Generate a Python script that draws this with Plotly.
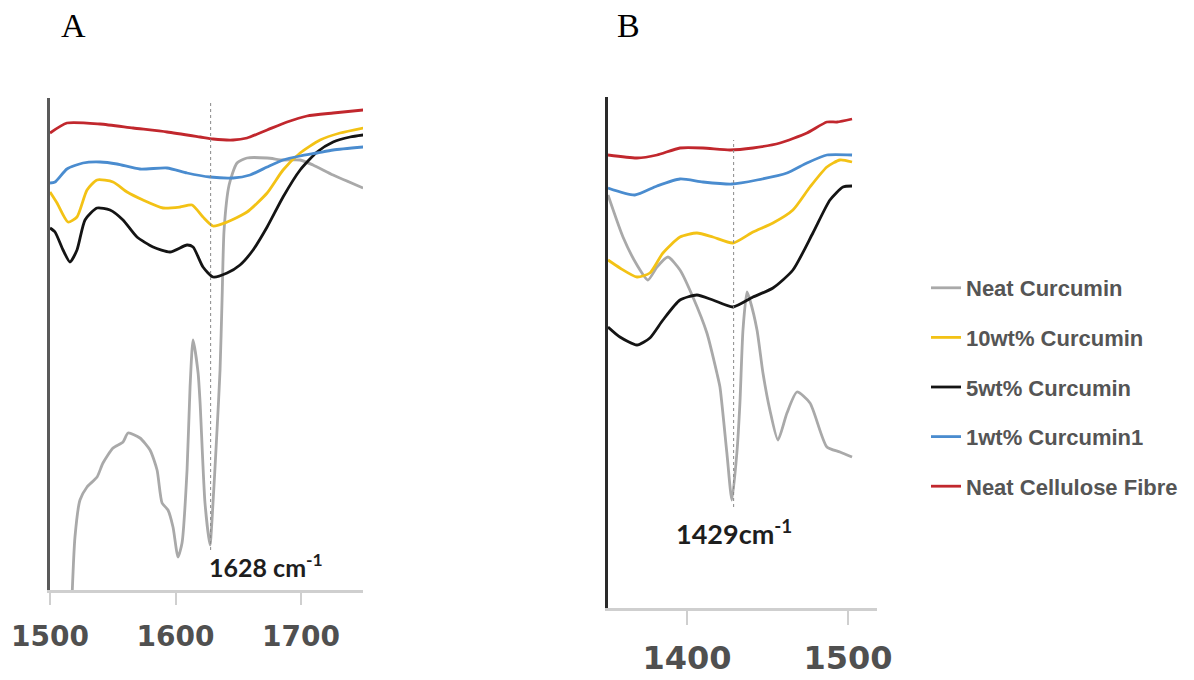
import plotly.graph_objects as go

# ---------------- Data (wavenumber cm-1, transmittance a.u.) ----------------
series_names = ["Neat Curcumin", "10wt% Curcumin", "5wt% Curcumin",
                "1wt% Curcumin1", "Neat Cellulose Fibre"]
series_colors = ["#a9a9a9", "#f3c215", "#141414", "#4a8ccf", "#c1272d"]

# Panel A (1500-1750 cm-1)
a_gray_x = [1517.0, 1519.9, 1523.9, 1529.5, 1537.5, 1542.2, 1550.2, 1558.2, 1562.2, 1571.7,
            1579.7, 1585.3, 1589.3, 1594.0, 1598.0, 1602.0, 1605.2, 1609.2, 1611.6, 1614.0,
            1618.0, 1619.6, 1623.5, 1627.5, 1629.1, 1633.1, 1635.5, 1637.1, 1638.7, 1642.7,
            1649.0, 1657.0, 1673.0, 1685.7, 1699.3, 1709.6, 1725.6, 1749.5]
a_gray_y = [-5.0, 10.6, 18.0, 20.6, 22.6, 25.4, 28.4, 29.6, 31.4, 30.4,
            28.0, 24.0, 17.4, 16.0, 12.6, 6.6, 9.4, 24.0, 40.6, 50.0,
            43.4, 37.4, 17.4, 9.0, 14.0, 32.0, 44.0, 58.0, 72.0, 81.0,
            85.4, 86.4, 86.4, 86.0, 86.0, 85.0, 83.0, 80.4]

a_yellow_x = [1500.0, 1505.6, 1514.3, 1521.5, 1529.5, 1537.5, 1550.2, 1561.4, 1574.1, 1590.1,
              1603.6, 1613.2, 1621.9, 1629.9, 1641.1, 1657.0, 1673.0, 1685.7, 1699.3, 1715.2,
              1731.1, 1749.5]
a_yellow_y = [79.6, 77.4, 73.6, 74.6, 80.0, 82.0, 81.6, 79.6, 78.0, 76.4,
              76.6, 77.0, 74.6, 72.8, 73.6, 75.6, 79.4, 84.0, 87.4, 90.0,
              91.4, 92.4]

a_black_x = [1500.0, 1504.0, 1510.4, 1515.9, 1521.5, 1527.9, 1537.5, 1547.8, 1558.2, 1569.3,
             1582.1, 1595.6, 1609.2, 1614.0, 1621.9, 1629.9, 1641.1, 1651.4, 1661.8, 1673.0,
             1685.7, 1699.3, 1712.8, 1725.6, 1739.1, 1749.5]
a_black_y = [72.4, 71.6, 68.0, 65.6, 68.0, 74.0, 76.4, 76.0, 74.0, 70.6,
             68.6, 67.6, 69.0, 68.6, 64.6, 62.6, 63.4, 65.0, 68.0, 72.6,
             78.6, 84.0, 87.6, 89.6, 90.6, 91.0]

a_blue_x = [1500.0, 1504.0, 1513.5, 1526.3, 1539.9, 1553.4, 1571.7, 1593.3, 1609.2, 1627.5,
            1645.9, 1659.4, 1673.0, 1685.7, 1699.3, 1712.8, 1725.6, 1749.5]
a_blue_y = [81.4, 81.6, 84.2, 85.4, 85.6, 85.2, 84.2, 84.4, 83.4, 82.6,
            82.4, 83.0, 84.6, 86.0, 86.8, 87.4, 88.0, 88.6]

a_red_x = [1500.0, 1513.5, 1539.9, 1566.2, 1593.3, 1619.6, 1629.9, 1645.9, 1657.0, 1673.0,
           1688.9, 1704.8, 1725.6, 1749.5]
a_red_y = [91.4, 93.4, 93.2, 92.4, 91.6, 90.6, 90.2, 90.0, 90.4, 92.0,
           93.6, 94.8, 95.4, 96.0]

# Panel B (1350-1518 cm-1)
b_gray_x = [1351.0, 1360.3, 1369.0, 1375.8, 1381.4, 1388.2, 1395.7, 1403.7, 1412.4, 1418.6,
            1420.5, 1424.8, 1427.9, 1431.0, 1432.9, 1434.8, 1437.3, 1439.1, 1443.5, 1447.2,
            1451.5, 1456.5, 1462.1, 1468.3, 1476.4, 1486.9, 1495.0, 1502.5]
b_gray_y = [82.6, 74.2, 68.6, 65.6, 68.2, 70.2, 67.6, 62.2, 55.0, 47.0,
            44.2, 31.0, 21.6, 31.0, 41.0, 55.6, 63.2, 61.6, 55.6, 47.0,
            39.6, 33.6, 39.0, 43.2, 41.0, 32.2, 31.2, 30.2]

b_yellow_x = [1351.0, 1358.4, 1369.0, 1377.0, 1385.1, 1395.7, 1406.2, 1416.1, 1428.6, 1441.0,
              1453.4, 1465.8, 1476.4, 1486.9, 1495.0, 1502.5]
b_yellow_y = [69.6, 68.0, 66.2, 67.0, 71.0, 74.2, 75.0, 74.2, 73.0, 75.2,
              77.0, 79.6, 84.2, 88.2, 89.6, 89.2]

b_black_x = [1351.0, 1358.4, 1369.0, 1377.0, 1385.1, 1395.7, 1406.2, 1416.1, 1428.6, 1441.0,
             1453.4, 1465.8, 1478.2, 1488.8, 1496.9, 1502.5]
b_black_y = [56.2, 54.2, 52.6, 54.0, 57.6, 61.6, 62.6, 61.6, 60.2, 62.2,
             64.0, 67.6, 75.0, 81.6, 84.2, 84.4]

b_blue_x = [1351.0, 1367.7, 1381.4, 1395.7, 1409.9, 1427.9, 1443.5, 1462.1, 1474.5, 1486.9,
            1502.5]
b_blue_y = [84.0, 82.6, 84.4, 85.8, 85.2, 84.8, 85.6, 87.0, 89.0, 90.6,
            90.6]

b_red_x = [1351.0, 1369.0, 1381.4, 1395.7, 1409.9, 1426.7, 1441.0, 1457.8, 1474.5, 1486.9,
           1493.2, 1502.5]
b_red_y = [90.6, 90.0, 90.6, 92.0, 92.0, 91.6, 92.0, 93.0, 95.0, 97.2,
           97.2, 97.8]

# Peak markers
peak_wavenumbers = [1628, 1429]
peak_line_top = [97.4, 93.6]
peak_line_bottom = [8.0, 20.2]
peak_labels = ["<b>1628 cm<sup>-1</sup></b>", "<b>1429cm<sup>-1</sup></b>"]
peak_label_y = [5.0, 15.2]

a_ticks = [1500, 1600, 1700]
b_ticks = [1400, 1500]

# ---------------- Figure ----------------
fig = go.Figure()

a_sets = [(a_gray_x, a_gray_y), (a_yellow_x, a_yellow_y), (a_black_x, a_black_y),
          (a_blue_x, a_blue_y), (a_red_x, a_red_y)]
b_sets = [(b_gray_x, b_gray_y), (b_yellow_x, b_yellow_y), (b_black_x, b_black_y),
          (b_blue_x, b_blue_y), (b_red_x, b_red_y)]

for i, (xs, ys) in enumerate(a_sets):
    fig.add_trace(go.Scatter(x=xs, y=ys, mode="lines", name=series_names[i],
                             legendgroup=series_names[i], showlegend=True,
                             line=dict(color=series_colors[i], width=2.8, shape="spline", smoothing=0.6),
                             xaxis="x", yaxis="y"))
for i, (xs, ys) in enumerate(b_sets):
    fig.add_trace(go.Scatter(x=xs, y=ys, mode="lines", name=series_names[i],
                             legendgroup=series_names[i], showlegend=False,
                             line=dict(color=series_colors[i], width=2.8, shape="spline", smoothing=0.6),
                             xaxis="x2", yaxis="y2"))

W, H = 1194, 680
tick_font_a = dict(family="DejaVu Sans", size=28, color="#505050", weight="bold")
tick_font_b = dict(family="DejaVu Sans", size=32, color="#505050", weight="bold")

fig.update_layout(
    template="none",
    width=W, height=H,
    margin=dict(l=0, r=0, t=0, b=0, autoexpand=False),
    paper_bgcolor="white", plot_bgcolor="white",
    showlegend=True,
    legend=dict(x=926 / W, y=(H - 267) / H, xanchor="left", yanchor="top",
                font=dict(family="Liberation Sans", size=22, color="#555555", weight="bold"),
                tracegroupgap=18, traceorder="grouped", bgcolor="rgba(0,0,0,0)",
                borderwidth=0),
    xaxis=dict(domain=[50 / W, 363 / W], range=[1500, 1749.4], tickvals=a_ticks,
               showline=True, linecolor="#cfcfcf", linewidth=2.5, mirror=False,
               ticks="outside", ticklen=12, tickwidth=2, tickcolor="#cfcfcf",
               tickfont=tick_font_a, ticklabelstandoff=8, automargin=False,
               showgrid=False, zeroline=False, anchor="y"),
    yaxis=dict(domain=[(H - 590) / H, (H - 98) / H], range=[0, 98.4],
               showline=True, linecolor="#5a5a5a", linewidth=3, automargin=False,
               showticklabels=False, ticks="", showgrid=False, zeroline=False, anchor="x"),
    xaxis2=dict(domain=[608 / W, 877 / W], range=[1351, 1518], tickvals=b_ticks,
                showline=True, linecolor="#cfcfcf", linewidth=2.5,
                ticks="outside", ticklen=14, tickwidth=2, tickcolor="#cfcfcf",
                tickfont=tick_font_b, ticklabelstandoff=6, automargin=False,
                showgrid=False, zeroline=False, anchor="y2"),
    yaxis2=dict(domain=[(H - 608) / H, (H - 97) / H], range=[0, 102.2],
                showline=True, linecolor="#2a2a2a", linewidth=3, automargin=False,
                showticklabels=False, ticks="", showgrid=False, zeroline=False, anchor="x2"),
)

# Dotted peak lines and labels
axes_pairs = [("x", "y"), ("x2", "y2")]
for i, (xr, yr) in enumerate(axes_pairs):
    fig.add_shape(type="line", xref=xr, yref=yr,
                  x0=peak_wavenumbers[i], x1=peak_wavenumbers[i],
                  y0=peak_line_bottom[i], y1=peak_line_top[i],
                  line=dict(color="#888888", width=1, dash="dot"), layer="above")

fig.add_annotation(x=peak_wavenumbers[0], y=peak_label_y[0], xref="x", yref="y",
                   text=peak_labels[0], showarrow=False, xanchor="left", yanchor="middle",
                   xshift=-4, font=dict(family="Lato", size=25, color="#1e1e1e"))
fig.add_annotation(x=peak_wavenumbers[1], y=peak_label_y[1], xref="x2", yref="y2",
                   text=peak_labels[1], showarrow=False, xanchor="center", yanchor="middle",
                   font=dict(family="Lato", size=27, color="#1e1e1e"))

# Panel letters
fig.add_annotation(x=73 / W, y=(H - 26) / H, xref="paper", yref="paper", text="A",
                   showarrow=False, xanchor="center", yanchor="middle",
                   font=dict(family="Liberation Serif", size=34, color="#000000"))
fig.add_annotation(x=628 / W, y=(H - 26) / H, xref="paper", yref="paper", text="B",
                   showarrow=False, xanchor="center", yanchor="middle",
                   font=dict(family="Liberation Serif", size=34, color="#000000"))

fig.write_html("out.html", config={"displayModeBar": False},
               post_script="document.body.style.margin='0px';document.body.style.overflow='hidden';")
